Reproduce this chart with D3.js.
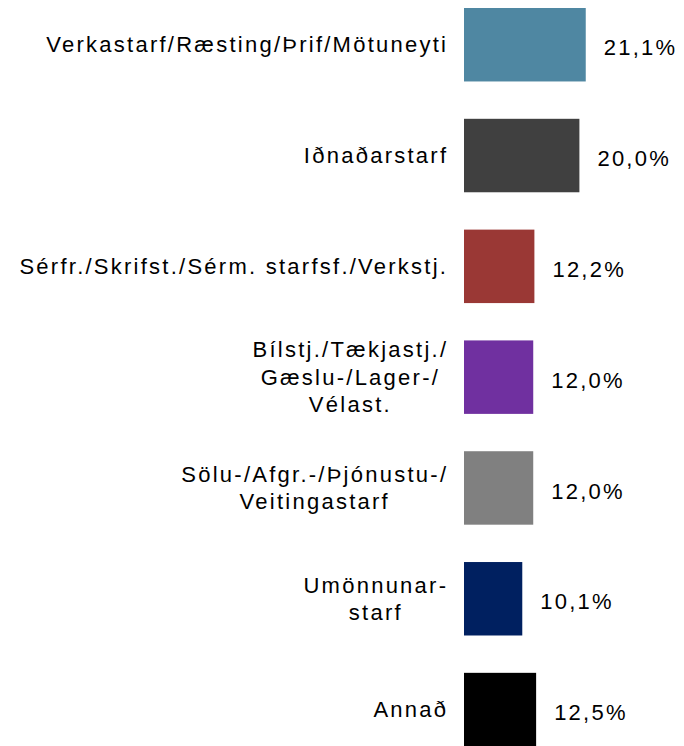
<!DOCTYPE html>
<html>
<head>
<meta charset="utf-8">
<script src="https://cdn.jsdelivr.net/npm/d3@7"></script>
<style>
  html, body { margin: 0; padding: 0; background: #ffffff; }
  svg { display: block; }
  text { font-family: "Liberation Sans", Arial, sans-serif; fill: #000; }
</style>
</head>
<body>
<svg id="chart" width="684" height="746"></svg>
<script>
// ---- data ----
const categories = [
  "Verkastarf/Ræsting/Þrif/Mötuneyti",
  "Iðnaðarstarf",
  "Sérfr./Skrifst./Sérm. starfsf./Verkstj.",
  "Bílstj./Tækjastj./Gæslu-/Lager-/Vélast.",
  "Sölu-/Afgr.-/Þjónustu-/Veitingastarf",
  "Umönnunarstarf",
  "Annað"
];
const categoryLines = [
  ["Verkastarf/Ræsting/Þrif/Mötuneyti"],
  ["Iðnaðarstarf"],
  ["Sérfr./Skrifst./Sérm. starfsf./Verkstj."],
  ["Bílstj./Tækjastj./", "Gæslu-/Lager-/", "Vélast."],
  ["Sölu-/Afgr.-/Þjónustu-/", "Veitingastarf"],
  ["Umönnunar-", "starf"],
  ["Annað"]
];
const values = [21.1, 20.0, 12.2, 12.0, 12.0, 10.1, 12.5];
const valueLabels = ["21,1%", "20,0%", "12,2%", "12,0%", "12,0%", "10,1%", "12,5%"];
const colors = ["#4F87A2", "#404040", "#9A3835", "#7030A0", "#808080", "#002060", "#000000"];

// ---- layout ----
const svg = d3.select("#chart");
const fontSize = 22;
const letterSpacing = 2.25;
const lineHeight = 27.5;
const labelRight = 446;

const x = d3.scaleLinear().domain([0, 25]).range([464, 608.25]);
const y = d3.scaleBand().domain(categories).range([8, 746.3]).paddingInner(0.337).paddingOuter(0);

const rows = categories.map((c, i) => ({
  cat: c, lines: categoryLines[i], value: values[i], label: valueLabels[i], color: colors[i]
}));

// bars
svg.append("g").selectAll("rect").data(rows).join("rect")
  .attr("x", x(0))
  .attr("y", d => y(d.cat))
  .attr("width", d => x(d.value) - x(0))
  .attr("height", y.bandwidth())
  .attr("fill", d => d.color);

// value labels
svg.append("g").selectAll("text").data(rows).join("text")
  .attr("x", d => x(d.value) + 18)
  .attr("y", d => y(d.cat) + y.bandwidth() / 2 + fontSize * 0.35 + 3)
  .style("font-size", fontSize + "px")
  .style("letter-spacing", letterSpacing + "px")
  .text(d => d.label);

// category labels (wrapped, centred block, right-aligned to bars)
const catG = svg.append("g");
rows.forEach(d => {
  const g = catG.append("g");
  const cy = y(d.cat) + y.bandwidth() / 2;
  const n = d.lines.length;
  const texts = d.lines.map((ln, i) => g.append("text")
    .attr("y", cy + (i - (n - 1) / 2) * lineHeight + fontSize * 0.35)
    .style("font-size", fontSize + "px")
    .style("letter-spacing", letterSpacing + "px")
    .attr("text-anchor", "middle")
    .text(ln));
  const widths = texts.map(t => t.node().getComputedTextLength() - letterSpacing);
  const maxW = d3.max(widths);
  const cx = labelRight - maxW / 2;
  texts.forEach(t => t.attr("x", cx + letterSpacing / 2));
});
</script>
</body>
</html>
